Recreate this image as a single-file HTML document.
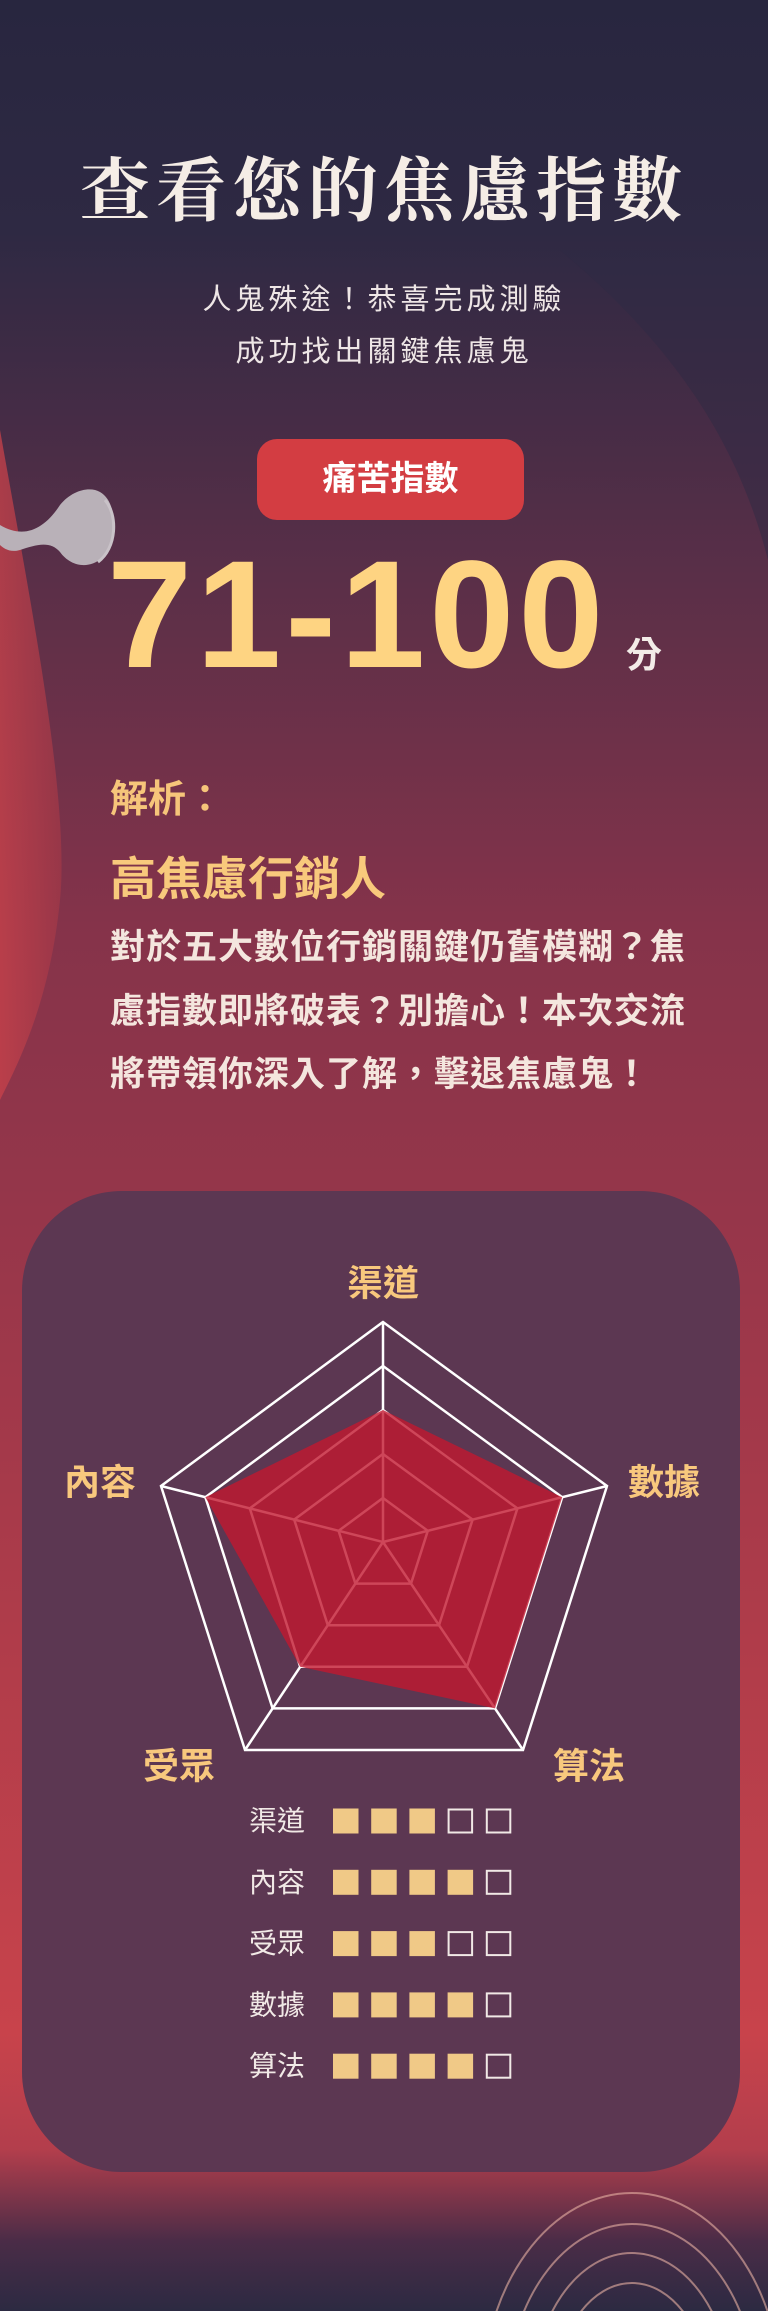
<!DOCTYPE html>
<html><head><meta charset="utf-8">
<style>
html,body{margin:0;padding:0;overflow:hidden;}
body{width:768px;height:2311px;position:relative;overflow:hidden;font-family:"Liberation Sans","Noto Sans CJK TC",sans-serif;}
.abs{position:absolute;}
.t{white-space:nowrap;}
</style></head>
<body>
<svg class="abs" style="left:0;top:0" width="768" height="2311">
<defs>
<linearGradient id="bg" x1="0" y1="0" x2="0" y2="1">
<stop offset="0" stop-color="#28263f"/>
<stop offset="0.1" stop-color="#2e2943"/>
<stop offset="0.25" stop-color="#5a2f48"/>
<stop offset="0.4" stop-color="#85334a"/>
<stop offset="0.6" stop-color="#a0384a"/>
<stop offset="0.88" stop-color="#c8434b"/>
<stop offset="0.93" stop-color="#b33e4c"/>
<stop offset="0.97" stop-color="#4a2c47"/>
<stop offset="1" stop-color="#2c2a42"/>
</linearGradient>
<linearGradient id="redl" x1="0" y1="0" x2="1" y2="0">
<stop offset="0" stop-color="#c9424a"/><stop offset="1" stop-color="#a03848"/>
</linearGradient>
</defs>
<rect width="768" height="2311" fill="url(#bg)"/>
<path d="M0,430 C30,600 70,800 60,900 C50,1000 20,1060 0,1100 Z" fill="url(#redl)" opacity="0.75"/>
<path d="M560,250 C680,350 740,450 768,560 L768,250 Z" fill="#2e2943" opacity="0.5"/>
<g fill="none" stroke="#e9b2a4" stroke-width="2" opacity="0.6">
<ellipse cx="632" cy="2400" rx="150" ry="207"/>
<ellipse cx="632" cy="2400" rx="125" ry="176"/>
<ellipse cx="632" cy="2400" rx="100" ry="147"/>
<ellipse cx="632" cy="2400" rx="78" ry="117"/>
</g>
<g>
<path d="M0,525 C25,540 45,528 60,505 C72,490 90,486 100,492 C118,502 118,540 102,558 C88,570 70,566 60,552 C50,540 35,545 20,550 C10,553 3,548 0,545 Z" fill="#b9b1b8"/>
<path d="M105,500 C118,515 117,548 98,562" fill="none" stroke="#c9c2c8" stroke-width="3"/>
</g>
</svg>

<div class="abs t" style="left:0;width:768px;top:150px;text-align:center;font-family:'Liberation Serif','Noto Serif CJK SC',serif;font-weight:bold;font-size:70px;letter-spacing:6px;color:#f5ede6;line-height:86px;">查看您的焦慮指數</div>
<div class="abs t" style="left:0;width:768px;top:274px;text-align:center;font-size:29px;letter-spacing:4px;color:#eee6e6;line-height:52px;">人鬼殊途！恭喜完成測驗<br>成功找出關鍵焦慮鬼</div>

<div class="abs" style="left:257px;top:439px;width:267px;height:81px;border-radius:20px;background:#d33d42;color:#fff;font-weight:bold;font-size:34px;line-height:81px;text-align:center;">痛苦指數</div>

<div class="abs t" style="left:107px;top:530px;font-weight:bold;font-size:153px;letter-spacing:4px;line-height:170px;color:#fed482;">71-100</div>
<div class="abs t" style="left:626px;top:626px;font-weight:bold;font-size:36px;color:#f3ece8;">分</div>

<div class="abs t" style="left:110px;top:778px;font-size:38px;font-weight:bold;color:#f6c57a;line-height:44px;">解析：</div>
<div class="abs t" style="left:110px;top:852px;font-size:46px;font-weight:bold;color:#f8c97c;line-height:54px;">高焦慮行銷人</div>
<div class="abs" style="left:110px;top:916px;width:600px;font-size:35px;font-weight:bold;color:#f4e6de;line-height:63.5px;letter-spacing:1px;">對於五大數位行銷關鍵仍舊模糊？焦<br>慮指數即將破表？別擔心！本次交流<br>將帶領你深入了解，擊退焦慮鬼！</div>

<div class="abs" style="left:22px;top:1191px;width:718px;height:981px;border-radius:100px;background:#5c3752;"></div>

<svg id="radar" class="abs" style="left:0;top:0" width="768" height="2311"></svg>

<script>
const categories = ["渠道","數據","算法","受眾","內容"];
const values = [3,4,4,3,4];
const maxValue = 5;
const gridLevels = [1,2,3,4,5];
const legendOrder = ["渠道","內容","受眾","數據","算法"];

const NS="http://www.w3.org/2000/svg";
const svg=document.getElementById('radar');
const C={x:383,y:1542};
// outer vertex geometry for each axis (layout, not data)
const outer=[[383,1322],[607,1486],[523,1750],[245,1750],[161,1486]];
const labelPos=[[383,1283],[664,1482],[589,1766],[179,1766],[100,1482]];
function pt(i,v){const f=v/maxValue;return [C.x+(outer[i][0]-C.x)*f, C.y+(outer[i][1]-C.y)*f];}
function mk(tag,attrs){const e=document.createElementNS(NS,tag);for(const k in attrs)e.setAttribute(k,attrs[k]);svg.appendChild(e);return e;}

gridLevels.forEach(l=>{
  const p=categories.map((c,i)=>pt(i,l).join(',')).join(' ');
  const g=mk('polygon',{points:p,fill:'none',stroke:'#ffffff','stroke-width':2.5});
  
  
});
categories.forEach((c,i)=>{
  const e=pt(i,maxValue);
  const s=mk('line',{x1:C.x,y1:C.y,x2:e[0],y2:e[1],stroke:'#ffffff','stroke-width':2.5});
  
  
});
const poly=mk('polygon',{points:values.map((v,i)=>pt(i,v).join(',')).join(' '),fill:'#c2182f','fill-opacity':0.8});


categories.forEach((c,i)=>{
  const t=mk('text',{x:labelPos[i][0],y:labelPos[i][1],'text-anchor':'middle','dominant-baseline':'central','font-size':36,'font-weight':'bold',fill:'#f8c87d','font-family':'Liberation Sans, Noto Sans CJK TC, sans-serif'});
  t.textContent=c;
  
  
});
legendOrder.forEach((c,r)=>{
  const y=1821+r*61.3;
  const v=values[categories.indexOf(c)];
  const t=mk('text',{x:249,y:y,'dominant-baseline':'central','font-size':28,fill:'#f1e9e6','font-family':'Liberation Sans, Noto Sans CJK TC, sans-serif'});
  t.textContent=c;
  
  
  for(let k=0;k<maxValue;k++){
    const filled=k<v;
    const b=mk('rect',{x:filled?333+k*38.2:334+k*38.2,y:filled?y-12.5:y-11.5,width:filled?25.5:23.5,height:filled?25:23,fill:filled?'#f0c987':'none',stroke:filled?'none':'#f1e9e6','stroke-width':2});
    
    
  }
});
</script>
</body></html>
